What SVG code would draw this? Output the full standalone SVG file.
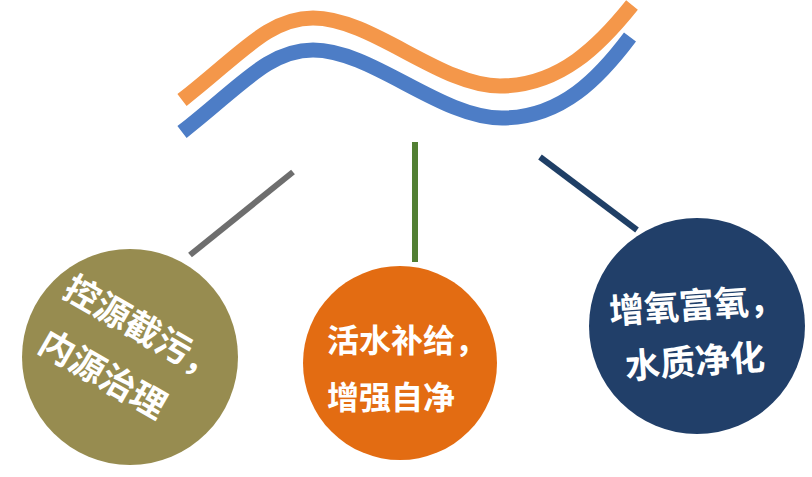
<svg xmlns="http://www.w3.org/2000/svg" width="812" height="477" viewBox="0 0 812 477">
<style>
.wave{fill:none;stroke-width:15;stroke-linecap:butt}
.conn{stroke-width:6;fill:none}
.t{font-family:"Noto Sans CJK SC","Noto Sans",sans-serif;font-weight:bold;fill:#ffffff}
</style>
<rect width="812" height="477" fill="#ffffff"/>
<g id="waves">
<path class="wave" stroke="#F4974A" d="M182,100 C240,55 268,18 313,18 C372,18 440,86 500,86 C560,86 600,45 632,5"/>
<path class="wave" stroke="#4D7DC6" d="M182,132 C240,87 268,50 313,50 C372,50 440,118 502,118 C562,118 600,77 630,37"/>
</g>
<g id="connectors">
<line class="conn" stroke="#6E6E6E" x1="293" y1="172" x2="190" y2="255"/>
<line class="conn" stroke="#527F33" x1="415" y1="142" x2="415" y2="262"/>
<line class="conn" stroke="#1F3F66" x1="540" y1="157" x2="637" y2="230"/>
</g>
<g id="node1">
<circle cx="130" cy="357" r="108" fill="#978C50"/>
<text class="t" font-size="35" transform="translate(61,296) rotate(30)">控源截污，</text>
<text class="t" font-size="35" transform="translate(36,350) rotate(30)">内源治理</text>
</g>
<g id="node2">
<circle cx="400" cy="363" r="97" fill="#E36C12"/>
<text class="t" x="327" y="352" font-size="32">活水补给，</text>
<text class="t" x="327" y="409" font-size="32">增强自净</text>
</g>
<g id="node3">
<circle cx="697" cy="326" r="108" fill="#213F69"/>
<text class="t" font-size="35" transform="translate(610,324) rotate(-4)">增氧富氧，</text>
<text class="t" font-size="35" transform="translate(626,379) rotate(-4)">水质净化</text>
</g>
</svg>
